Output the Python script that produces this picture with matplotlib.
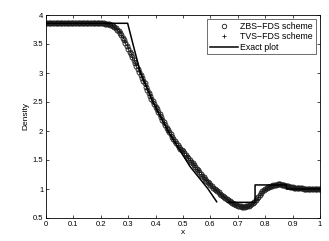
import numpy as np
import matplotlib
matplotlib.use("Agg")
import matplotlib.pyplot as plt

plt.rcParams['font.family'] = ['Liberation Sans', 'DejaVu Sans']

# Numerical solution (ZBS-FDS scheme), uniform grid on [0, 1]
zbs = [
    3.857, 3.857, 3.857, 3.857, 3.857, 3.857, 3.857, 3.857, 3.857, 3.857,
    3.857, 3.857, 3.857, 3.857, 3.857, 3.857, 3.857, 3.857, 3.857, 3.857,
    3.857, 3.857, 3.857, 3.857, 3.857, 3.857, 3.857, 3.857, 3.857, 3.857,
    3.857, 3.857, 3.857, 3.857, 3.857, 3.857, 3.857, 3.857, 3.857, 3.857,
    3.856,
    3.856, 3.855, 3.853, 3.850, 3.846, 3.840, 3.831, 3.820, 3.806, 3.790,
    3.771, 3.750, 3.722, 3.690, 3.652, 3.610, 3.565, 3.520, 3.470, 3.420,
    3.370, 3.320, 3.270, 3.220, 3.170, 3.120, 3.070, 3.020, 2.970, 2.920,
    2.870, 2.820, 2.765, 2.710, 2.660, 2.610, 2.560, 2.510, 2.465, 2.420,
    2.375, 2.330, 2.285, 2.240, 2.195, 2.150, 2.105, 2.060, 2.020, 1.980,
    1.940, 1.900, 1.865, 1.830, 1.795, 1.760, 1.725, 1.690, 1.670, 1.650,
    1.620, 1.590, 1.560, 1.530, 1.500, 1.470, 1.440, 1.410, 1.380, 1.350,
    1.320, 1.290, 1.260, 1.230, 1.200, 1.170, 1.145, 1.120, 1.095, 1.070,
    1.045, 1.020, 1.000, 0.980, 0.960, 0.940, 0.920, 0.900, 0.880, 0.860,
    0.840, 0.820, 0.805, 0.790, 0.775, 0.760, 0.747, 0.735, 0.725, 0.715,
    0.707, 0.700, 0.697, 0.695, 0.697, 0.700, 0.706, 0.715, 0.726, 0.740,
    0.758, 0.780, 0.810, 0.840, 0.870, 0.900, 0.930, 0.960, 0.982, 1.000,
    1.016, 1.030, 1.041, 1.050, 1.058, 1.065, 1.070, 1.075, 1.078, 1.080,
    1.079, 1.075, 1.070, 1.065, 1.058, 1.050, 1.045, 1.040, 1.035, 1.030,
    1.025, 1.020, 1.017, 1.015, 1.012, 1.010, 1.009, 1.008, 1.006, 1.005,
    1.004, 1.003, 1.003, 1.002, 1.002, 1.001, 1.001, 1.000, 1.000, 1.000,
]

# Numerical solution (TVS-FDS scheme)
tvs = [
    3.857, 3.857, 3.857, 3.857, 3.857, 3.857, 3.857, 3.857, 3.857, 3.857,
    3.857, 3.857, 3.857, 3.857, 3.857, 3.857, 3.857, 3.857, 3.857, 3.857,
    3.857, 3.857, 3.857, 3.857, 3.857, 3.857, 3.857, 3.857, 3.857, 3.857,
    3.857, 3.857, 3.857, 3.857, 3.857, 3.857, 3.857, 3.857, 3.857, 3.857,
    3.857,
    3.856, 3.855, 3.854, 3.852, 3.848, 3.843, 3.835, 3.825, 3.812, 3.797,
    3.779, 3.758, 3.732, 3.700, 3.663, 3.621, 3.576, 3.530, 3.481, 3.430,
    3.380, 3.330, 3.280, 3.230, 3.180, 3.130, 3.080, 3.030, 2.980, 2.930,
    2.880, 2.828, 2.774, 2.720, 2.668, 2.617, 2.567, 2.517, 2.470, 2.425,
    2.380, 2.335, 2.290, 2.245, 2.200, 2.155, 2.110, 2.065, 2.024, 1.984,
    1.944, 1.904, 1.868, 1.833, 1.798, 1.763, 1.728, 1.695, 1.672, 1.652,
    1.622, 1.592, 1.562, 1.532, 1.502, 1.472, 1.442, 1.412, 1.382, 1.352,
    1.322, 1.292, 1.262, 1.232, 1.202, 1.172, 1.147, 1.122, 1.097, 1.072,
    1.047, 1.022, 1.002, 0.982, 0.962, 0.942, 0.922, 0.902, 0.882, 0.862,
    0.842, 0.822, 0.806, 0.791, 0.776, 0.761, 0.748, 0.736, 0.726, 0.716,
    0.708, 0.701, 0.697, 0.695, 0.696, 0.699, 0.705, 0.713, 0.724, 0.738,
    0.756, 0.778, 0.806, 0.836, 0.866, 0.897, 0.927, 0.957, 0.980, 0.998,
    1.015, 1.029, 1.040, 1.049, 1.057, 1.064, 1.070, 1.074, 1.077, 1.079,
    1.078, 1.075, 1.070, 1.064, 1.057, 1.050, 1.044, 1.039, 1.034, 1.029,
    1.024, 1.020, 1.017, 1.014, 1.012, 1.010, 1.009, 1.007, 1.006, 1.005,
    1.004, 1.003, 1.003, 1.002, 1.002, 1.001, 1.001, 1.000, 1.000, 1.000,
]

# Exact solution (NaN separates the two drawn pieces)
exact_x = [0.0, 0.298, 0.32, 0.345, 0.39, 0.445, 0.495, 0.526, 0.556, 0.59, 0.623,
           np.nan, 0.664, 0.763, 0.763, 0.878, 0.878, 1.0]
exact_y = [3.857, 3.857, 3.45, 3.0, 2.5, 2.0, 1.62, 1.385, 1.21, 1.01, 0.78,
           np.nan, 0.77, 0.77, 1.07, 1.07, 1.0, 1.0]

labels = ['ZBS\u2212FDS scheme', 'TVS\u2212FDS scheme', 'Exact plot']
xticks = [0, 0.1, 0.2, 0.3, 0.4, 0.5, 0.6, 0.7, 0.8, 0.9, 1]
xticklabels = ['0', '0.1', '0.2', '0.3', '0.4', '0.5', '0.6', '0.7', '0.8', '0.9', '1']
yticks = [0.5, 1, 1.5, 2, 2.5, 3, 3.5, 4]
yticklabels = ['0.5', '1', '1.5', '2', '2.5', '3', '3.5', '4']

x_zbs = np.linspace(0, 1, len(zbs))
x_tvs = np.linspace(0, 1, len(tvs))

fig = plt.figure(figsize=(3.29, 2.41), dpi=100)
ax = fig.add_axes([46/329, 23/241, 274/329, 203/241])

ax.plot(x_zbs, zbs, linestyle='none', marker='o', markersize=3.6,
        markerfacecolor='none', markeredgecolor='#1a1a1a', markeredgewidth=0.6,
        label=labels[0])
ax.plot(x_tvs, tvs, linestyle='none', marker='+', markersize=3.4,
        color='#1a1a1a', markeredgewidth=0.6, label=labels[1])
ax.plot(exact_x, exact_y, color='black', linewidth=1.1, label=labels[2])

ax.set_xlim(0, 1)
ax.set_ylim(0.5, 4)
ax.set_xticks(xticks)
ax.set_xticklabels(xticklabels)
ax.set_yticks(yticks)
ax.set_yticklabels(yticklabels)
ax.tick_params(direction='in', length=2.2, width=0.5, labelsize=5.5,
               top=True, right=True, pad=2, colors='black')
for s in ax.spines.values():
    s.set_linewidth(0.6)

ax.set_xlabel('x', fontsize=6, labelpad=1)
ax.set_ylabel('Density', fontsize=6, labelpad=2)

leg = ax.legend(loc='upper right', fontsize=6.3, numpoints=1, frameon=True,
                fancybox=False, borderpad=0.3, labelspacing=0.15,
                handlelength=3.2, handletextpad=0.3, borderaxespad=0.5,
                markerscale=0.9)
leg.get_frame().set_edgecolor('black')
leg.get_frame().set_linewidth(0.5)

fig.savefig('out.png', dpi=100)
